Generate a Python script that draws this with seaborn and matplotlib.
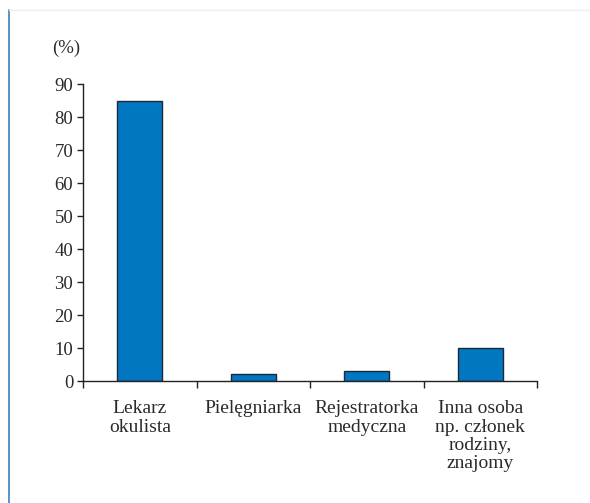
import numpy as np
import pandas as pd
import matplotlib
matplotlib.use("Agg")
import matplotlib.pyplot as plt
import seaborn as sns
from matplotlib.lines import Line2D

# Data
categories = ["Lekarz\nokulista", "Pielęgniarka", "Rejestratorka\nmedyczna",
              "Inna osoba\nnp. członek\nrodziny,\nznajomy"]
percent = [85, 2, 3, 10]
y_ticks = [0, 10, 20, 30, 40, 50, 60, 70, 80, 90]

df = pd.DataFrame({"kategoria": categories, "procent": percent})

sns.set_theme(style="white")
plt.rcParams["font.family"] = ["Liberation Serif", "DejaVu Serif"]

fig = plt.figure(figsize=(5.9, 5.03), dpi=100)
ax = fig.add_axes([0.1407, 0.2425, 0.7695, 0.5905])

sns.barplot(data=df, x="kategoria", y="procent", color="#0077c0",
            width=0.4, edgecolor="#1a2a3a", linewidth=1.0, saturation=1, ax=ax)

ax.set_ylim(0, 90)
ax.set_xlim(-0.5, len(categories) - 0.5)
ax.set_yticks(y_ticks)
ax.set_xlabel("")
ax.set_ylabel("")

# Spines: only left and bottom
for side in ["top", "right"]:
    ax.spines[side].set_visible(False)
for side in ["left", "bottom"]:
    ax.spines[side].set_color("#222222")
    ax.spines[side].set_linewidth(1.0)

# Category boundary ticks on x, labels centered
ax.set_xticks(np.arange(-0.5, len(categories)), minor=True)
ax.tick_params(axis="x", which="minor", bottom=True, length=5, width=1.0,
               color="#222222", direction="out")
ax.tick_params(axis="x", which="major", bottom=True, length=0, pad=14,
               labelsize=14, labelcolor="#2a2a2a")
ax.set_xticklabels(categories, linespacing=1.1)
ax.tick_params(axis="y", length=4, width=1.0, color="#222222", direction="out",
               left=True, pad=3, labelsize=13.5, labelcolor="#2a2a2a")

ax.text(-0.037, 1.121, "(%)", transform=ax.transAxes, fontsize=13.5,
        color="#2a2a2a", ha="center", va="center")

# Decorative frame lines of the original page
fig.add_artist(Line2D([9 / 590, 9 / 590], [0, 1 - 10 / 503], color="#3d7fc1", linewidth=1.2))
fig.add_artist(Line2D([9 / 590, 1], [1 - 10 / 503, 1 - 10 / 503], color="#eeeeee", linewidth=1.0))

fig.savefig("out.png", dpi=100, facecolor="white")
